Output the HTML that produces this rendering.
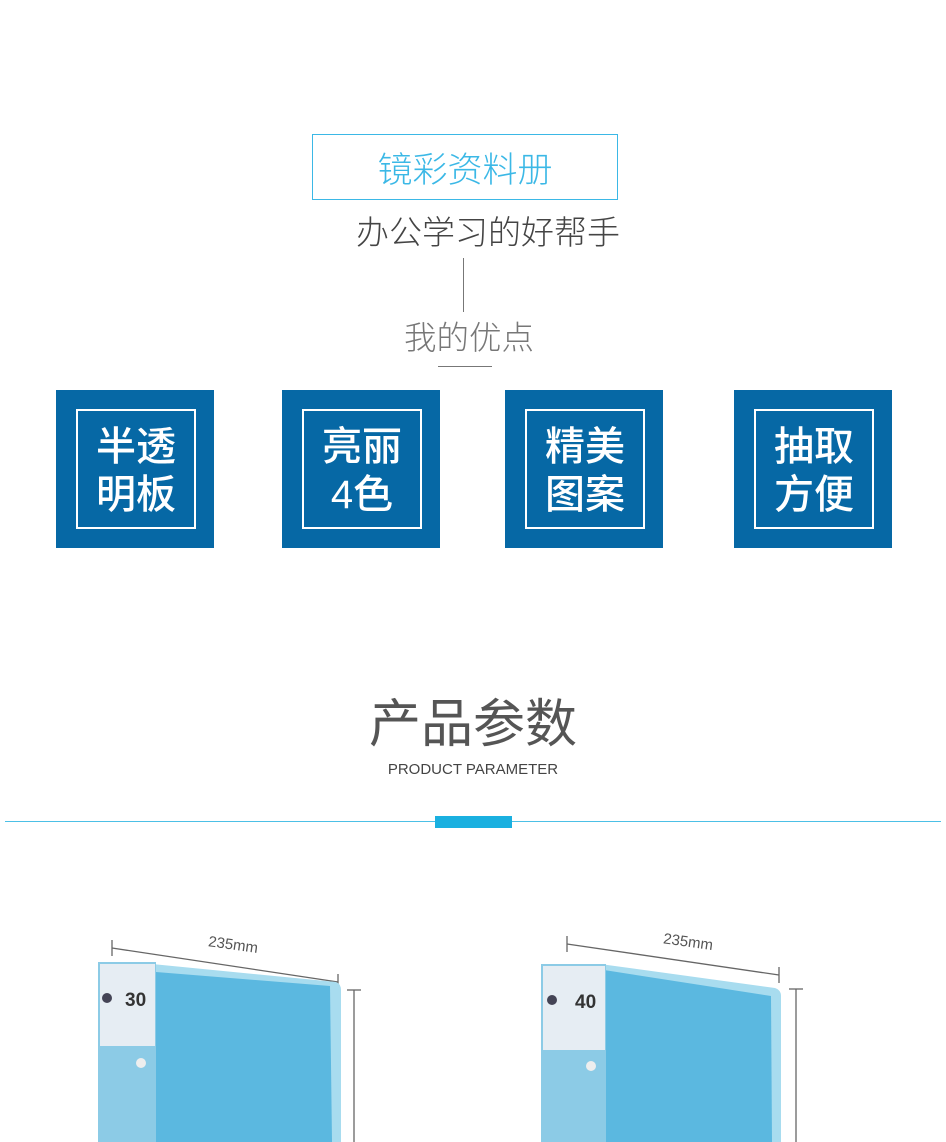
<!DOCTYPE html>
<html><head><meta charset="utf-8"><style>
*{margin:0;padding:0;box-sizing:border-box}
body{width:946px;height:1142px;background:#fff;position:relative;overflow:hidden;font-family:"Liberation Sans","Noto Sans CJK SC",sans-serif}
.a{position:absolute}
.t{position:absolute;white-space:nowrap;text-align:center}
.bx{position:absolute;width:158px;height:158px;background:#0668a5;top:390px}
.bx div{position:absolute;left:20px;top:19px;width:120px;height:120px;border:2px solid #fff;color:#fff;font-size:40px;line-height:48px;text-align:center;padding-top:12px;font-weight:500}
</style></head><body>
<div class="a" style="left:312px;top:134px;width:306px;height:66px;border:1px solid #3bb8e6"></div>
<div class="t" style="left:312px;top:142px;width:306px;font-size:35px;color:#3bb8e6;font-weight:300">镜彩资料册</div>
<div class="t" style="left:330px;top:206px;width:316px;font-size:33px;color:#444;font-weight:300">办公学习的好帮手</div>
<div class="a" style="left:463px;top:258px;width:1px;height:54px;background:#777"></div>
<div class="t" style="left:369px;top:312px;width:200px;font-size:32.5px;color:#777;font-weight:300">我的优点</div>
<div class="a" style="left:438px;top:366px;width:54px;height:1px;background:#777"></div>
<div class="bx" style="left:56px"><div>半透<br>明板</div></div>
<div class="bx" style="left:282px"><div>亮丽<br>4色</div></div>
<div class="bx" style="left:505px"><div>精美<br>图案</div></div>
<div class="bx" style="left:734px"><div>抽取<br>方便</div></div>
<div class="t" style="left:323px;top:682px;width:300px;font-size:52px;color:#555;font-weight:400">产品参数</div>
<div class="t" style="left:323px;top:761px;width:300px;font-size:15px;color:#444">PRODUCT PARAMETER</div>
<div class="a" style="left:5px;top:821px;width:936px;height:1px;background:#4cc0e6"></div>
<div class="a" style="left:435px;top:816px;width:77px;height:12px;background:#1ab0e0"></div>
<svg class="a" style="left:0;top:900px" width="946" height="242">
<g stroke="#666" stroke-width="1.3" fill="none">
<line x1="112" y1="48" x2="338" y2="82"/><line x1="112" y1="40" x2="112" y2="56"/><line x1="338" y1="74" x2="338" y2="90"/>
<line x1="354" y1="90" x2="354" y2="242"/><line x1="347" y1="90" x2="361" y2="90"/>
<line x1="567" y1="44" x2="779" y2="75"/><line x1="567" y1="36" x2="567" y2="52"/><line x1="779" y1="67" x2="779" y2="83"/>
<line x1="796" y1="89" x2="796" y2="242"/><line x1="789" y1="89" x2="803" y2="89"/>
</g>
<text x="208" y="50" font-size="15" fill="#555" transform="rotate(8 236 46)" font-family="Liberation Sans">235mm</text>
<text x="663" y="47" font-size="15" fill="#555" transform="rotate(8 690 43)" font-family="Liberation Sans">235mm</text>
<path d="M152 64 L336 82 Q341 84 341 90 L341 242 L152 242Z" fill="#a8dcef"/>
<path d="M156 72 L330 86 L332 242 L156 242Z" fill="#5bb8e0"/>
<rect x="98" y="62" width="58" height="180" fill="#8ccbe6"/>
<rect x="100" y="64" width="55" height="82" fill="#e6edf3"/>
<text x="125" y="106" font-size="19" font-weight="bold" fill="#333" font-family="Liberation Sans">30</text>
<circle cx="107" cy="98" r="5" fill="#445"/>
<circle cx="141" cy="163" r="5" fill="#eee"/>
<path d="M600 64 L775 88 Q781 90 781 96 L781 242 L600 242Z" fill="#a8dcef"/>
<path d="M604 70 L771 96 L772 242 L604 242Z" fill="#5bb8e0"/>
<rect x="541" y="64" width="65" height="178" fill="#8ccbe6"/>
<rect x="543" y="66" width="62" height="84" fill="#e6edf3"/>
<text x="575" y="108" font-size="19" font-weight="bold" fill="#333" font-family="Liberation Sans">40</text>
<circle cx="552" cy="100" r="5" fill="#445"/>
<circle cx="591" cy="166" r="5" fill="#eee"/>
</svg>
</body></html>
